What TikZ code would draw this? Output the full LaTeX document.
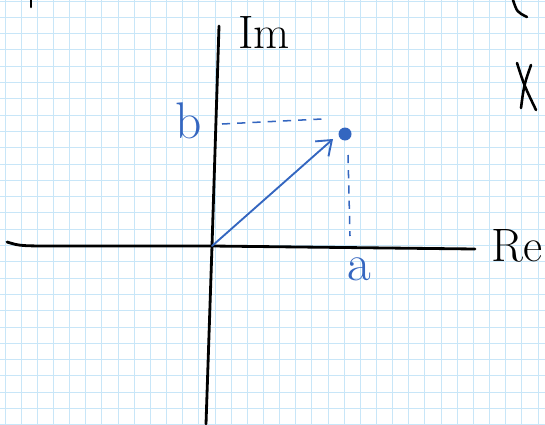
\documentclass[tikz,border=0pt]{standalone}
\usepackage{xcolor}
\usepackage{tikz}
\usetikzlibrary{arrows.meta, positioning, calc}
\definecolor{penblue}{RGB}{52,102,192}
\definecolor{gridblue}{RGB}{200,230,248}
\tikzset{
  gridline/.style={draw=gridblue,line width=0.7pt},
  axis/.style={draw=black,line width=2.4pt,line cap=round},
  ink/.style={draw=black,line width=2.2pt,line cap=round,line join=round},
  vec/.style={draw=penblue,line width=1.6pt,line cap=round,
    -{Straight Barb[length=4mm,width=6mm,line width=1.6pt]}},
  proj/.style={draw=penblue,line width=1.3pt,dash pattern=on 7pt off 6pt},
  axlabel/.style={font=\fontsize{40}{40}\selectfont,inner sep=0pt},
  comp/.style={text=penblue,font=\fontsize{44}{44}\selectfont,inner sep=0pt}
}
\begin{document}
\begin{tikzpicture}[x=0.03cm,y=-0.03cm]
\useasboundingbox (0,0) rectangle (545,424);
\fill[white] (0,0) rectangle (545,424);
\clip (0,0) rectangle (545,424);
\foreach \i in {0,...,33} \draw[gridline] ({5+16.15*\i},0) -- ({5+16.15*\i},424);
\foreach \j in {0,...,26} \draw[gridline] (0,{1+16.3*\j}) -- (545,{1+16.3*\j});

\coordinate (O) at (212,246);
\coordinate (xl) at (7,242);
\coordinate (xr) at (475,249);
\coordinate (yt) at (219,26);
\coordinate (yb) at (206,424);
\coordinate (P) at (345,134);
\coordinate (tip) at (333,139);
\coordinate (bt) at (222,124);
\coordinate (bp) at (322,119);
\coordinate (at) at (348,155);
\coordinate (ap) at (350,236);

\draw[axis] (xl) .. controls (20,246) .. (60,246) -- (O) -- (xr);
\draw[axis] (yt) -- (O) -- (yb);

\node[axlabel] (im) at (264,32) {Im};
\node[axlabel] (re) at (517,246) {Re};
\node[comp] (b) at (189,121) {b};
\node[comp] (a) at (359,269) {a};

\draw[vec] (O) -- (tip);
\fill[penblue] (P) circle (6.5);
\draw[proj] (bt) -- (bp);
\draw[proj] (at) -- (ap);

\draw[ink] (31,0) -- (31,7);
\draw[ink] (513,0) .. controls (517,12) .. (527,17);
\draw[ink] (517,63) .. controls (524,85) .. (536,110);
\draw[ink] (531,65) .. controls (524,85) .. (521,108);
\end{tikzpicture}
\end{document}
